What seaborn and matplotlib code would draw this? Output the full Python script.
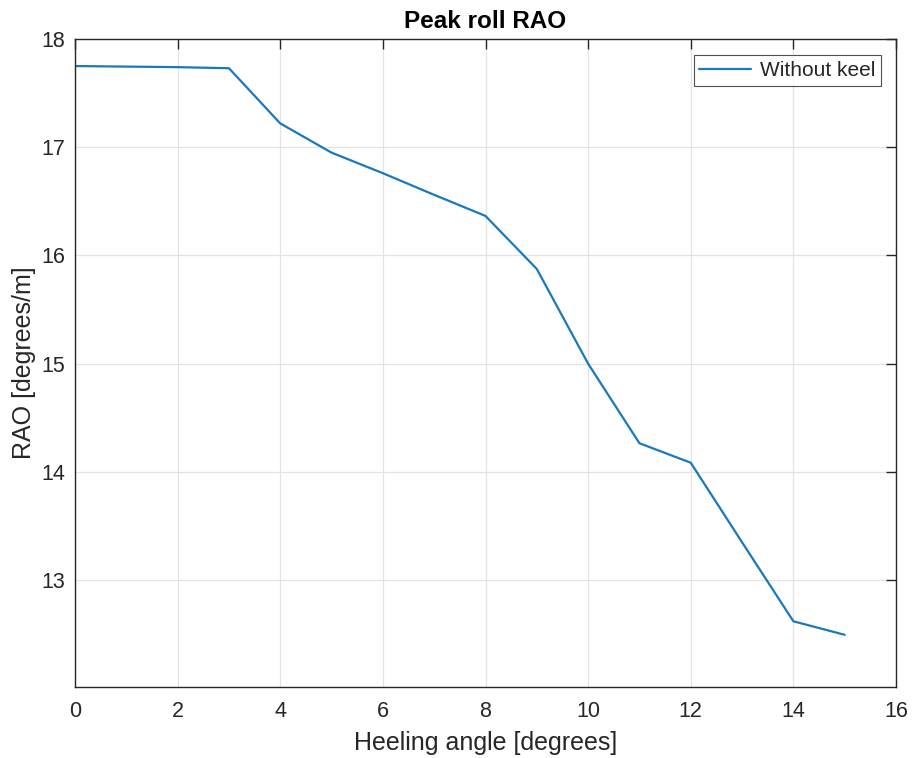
import matplotlib
matplotlib.use("Agg")
import matplotlib.pyplot as plt
import seaborn as sns
import pandas as pd

heeling_angle = [0, 1, 2, 3, 4, 5, 6, 7, 8, 9, 10, 11, 12, 13, 14, 15]
rao_without_keel = [17.75, 17.745, 17.74, 17.73, 17.22, 16.95, 16.76, 16.56,
                    16.365, 15.875, 15.0, 14.265, 14.085, 13.35, 12.62, 12.495]
series_name = "Without keel"
x_ticks = [0, 2, 4, 6, 8, 10, 12, 14, 16]
y_ticks = [13, 14, 15, 16, 17, 18]

df = pd.DataFrame({"Heeling angle": heeling_angle, "RAO": rao_without_keel,
                   "series": series_name})

sns.set_theme(style="white")
plt.rcParams["font.family"] = ["Liberation Sans", "DejaVu Sans"]

fig = plt.figure(figsize=(9.14, 7.58), dpi=100)
ax = fig.add_axes([75/914, 1-687.3/758, (896-75)/914, (687.3-39)/758])

sns.lineplot(data=df, x="Heeling angle", y="RAO", hue="series",
             palette=["#1a78bd"], linewidth=1.6, ax=ax)

ax.set_xlim(0, 16)
ax.set_ylim(12.01, 18)
ax.set_xticks(x_ticks)
ax.set_yticks(y_ticks)
ax.grid(True, color="#e3e3e3", linewidth=0.9)
ax.set_axisbelow(True)
for s in ax.spines.values():
    s.set_color("#262626")
    s.set_linewidth(1.0)
    s.set_visible(True)
ax.tick_params(direction="in", length=7, width=1.0, color="#262626",
               top=True, right=True, labelsize=15.5, labelcolor="#262626")
ax.tick_params(axis="x", pad=10)
ax.tick_params(axis="y", pad=7)

ax.set_xlabel("Heeling angle [degrees]", fontsize=18, color="#262626", labelpad=6)
ax.set_ylabel("RAO [degrees/m]", fontsize=18, color="#262626", labelpad=4)
ax.set_title("Peak roll RAO", fontsize=17.5, fontweight="bold", color="black", pad=8)

leg = ax.legend(loc="upper right", fontsize=15, frameon=True, fancybox=False,
                bbox_to_anchor=(1 - 15/821, 1 - 16/648.3), borderaxespad=0,
                handlelength=2.5, borderpad=0.28, handletextpad=0.4)
leg.get_frame().set_edgecolor("#262626")
leg.get_frame().set_linewidth(0.8)
leg.set_title(None)

fig.savefig("out.png", dpi=100)
